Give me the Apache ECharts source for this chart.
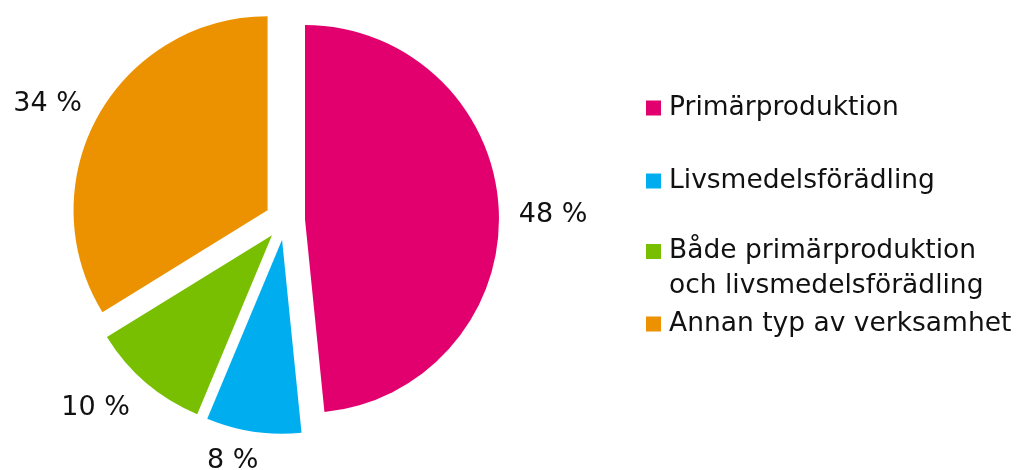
<!DOCTYPE html>
<html>
<head>
<meta charset="utf-8">
<script src="https://cdn.jsdelivr.net/npm/echarts@6/dist/echarts.min.js"></script>
<style>
  html, body { margin: 0; padding: 0; background: #fff; }
  #chart { width: 1017px; height: 470px; }
</style>
</head>
<body>
<div id="chart"></div>
<script>
var categories = ['Primärproduktion', 'Livsmedelsförädling', 'Både primärproduktion\noch livsmedelsförädling', 'Annan typ av verksamhet'];
var shares = [48.4, 7.9, 9.9, 33.8];
var colors = ['#e2006e', '#00aeef', '#77bf00', '#ec9200'];

// small label nudges [dx, dy] so the percentages sit where the reference has them
var labelNudge = [[1, 6], [12, 15], [-2, 15], [1, -5]];

var font = 'DejaVu Sans, Verdana, sans-serif';

var chart = echarts.init(document.getElementById('chart'));

// one legend per item so each row can sit where the reference has it
var legendTops = [93, 166, 199, 309];
var legends = categories.map(function (name, i) {
  var twoLines = name.indexOf('\n') >= 0;
  return {
    orient: 'vertical',
    left: 646,
    top: legendTops[i],
    padding: 0,
    data: [name],
    icon: 'rect',
    itemWidth: 15,
    itemHeight: 15,
    itemGap: 0,
    // empty first line keeps the icon level with the first text line
    formatter: function (n) { return twoLines ? '\n' + n : n; },
    textStyle: {
      fontFamily: font,
      fontSize: 26.5,
      color: '#111',
      lineHeight: twoLines ? 35 : 30,
      padding: [0, 0, 0, 3]
    }
  };
});

chart.setOption({
  animation: false,
  color: colors,
  legend: legends,
  series: [
    {
      type: 'pie',
      center: [285, 220],
      radius: 194,
      startAngle: 90,
      clockwise: true,
      selectedMode: 'multiple',
      selectedOffset: 20,
      itemStyle: { borderWidth: 0 },
      emphasis: { scale: false },
      label: {
        show: true,
        position: 'outside',
        formatter: function (p) { return Math.round(p.value) + ' %'; },
        fontFamily: font,
        fontSize: 27,
        color: '#111'
      },
      labelLine: { show: false, length: 14, length2: 0 },
      labelLayout: function (p) {
        return { dx: labelNudge[p.dataIndex][0], dy: labelNudge[p.dataIndex][1] };
      },
      data: categories.map(function (name, i) {
        return { name: name, value: shares[i], selected: true };
      })
    }
  ]
});
</script>
</body>
</html>
